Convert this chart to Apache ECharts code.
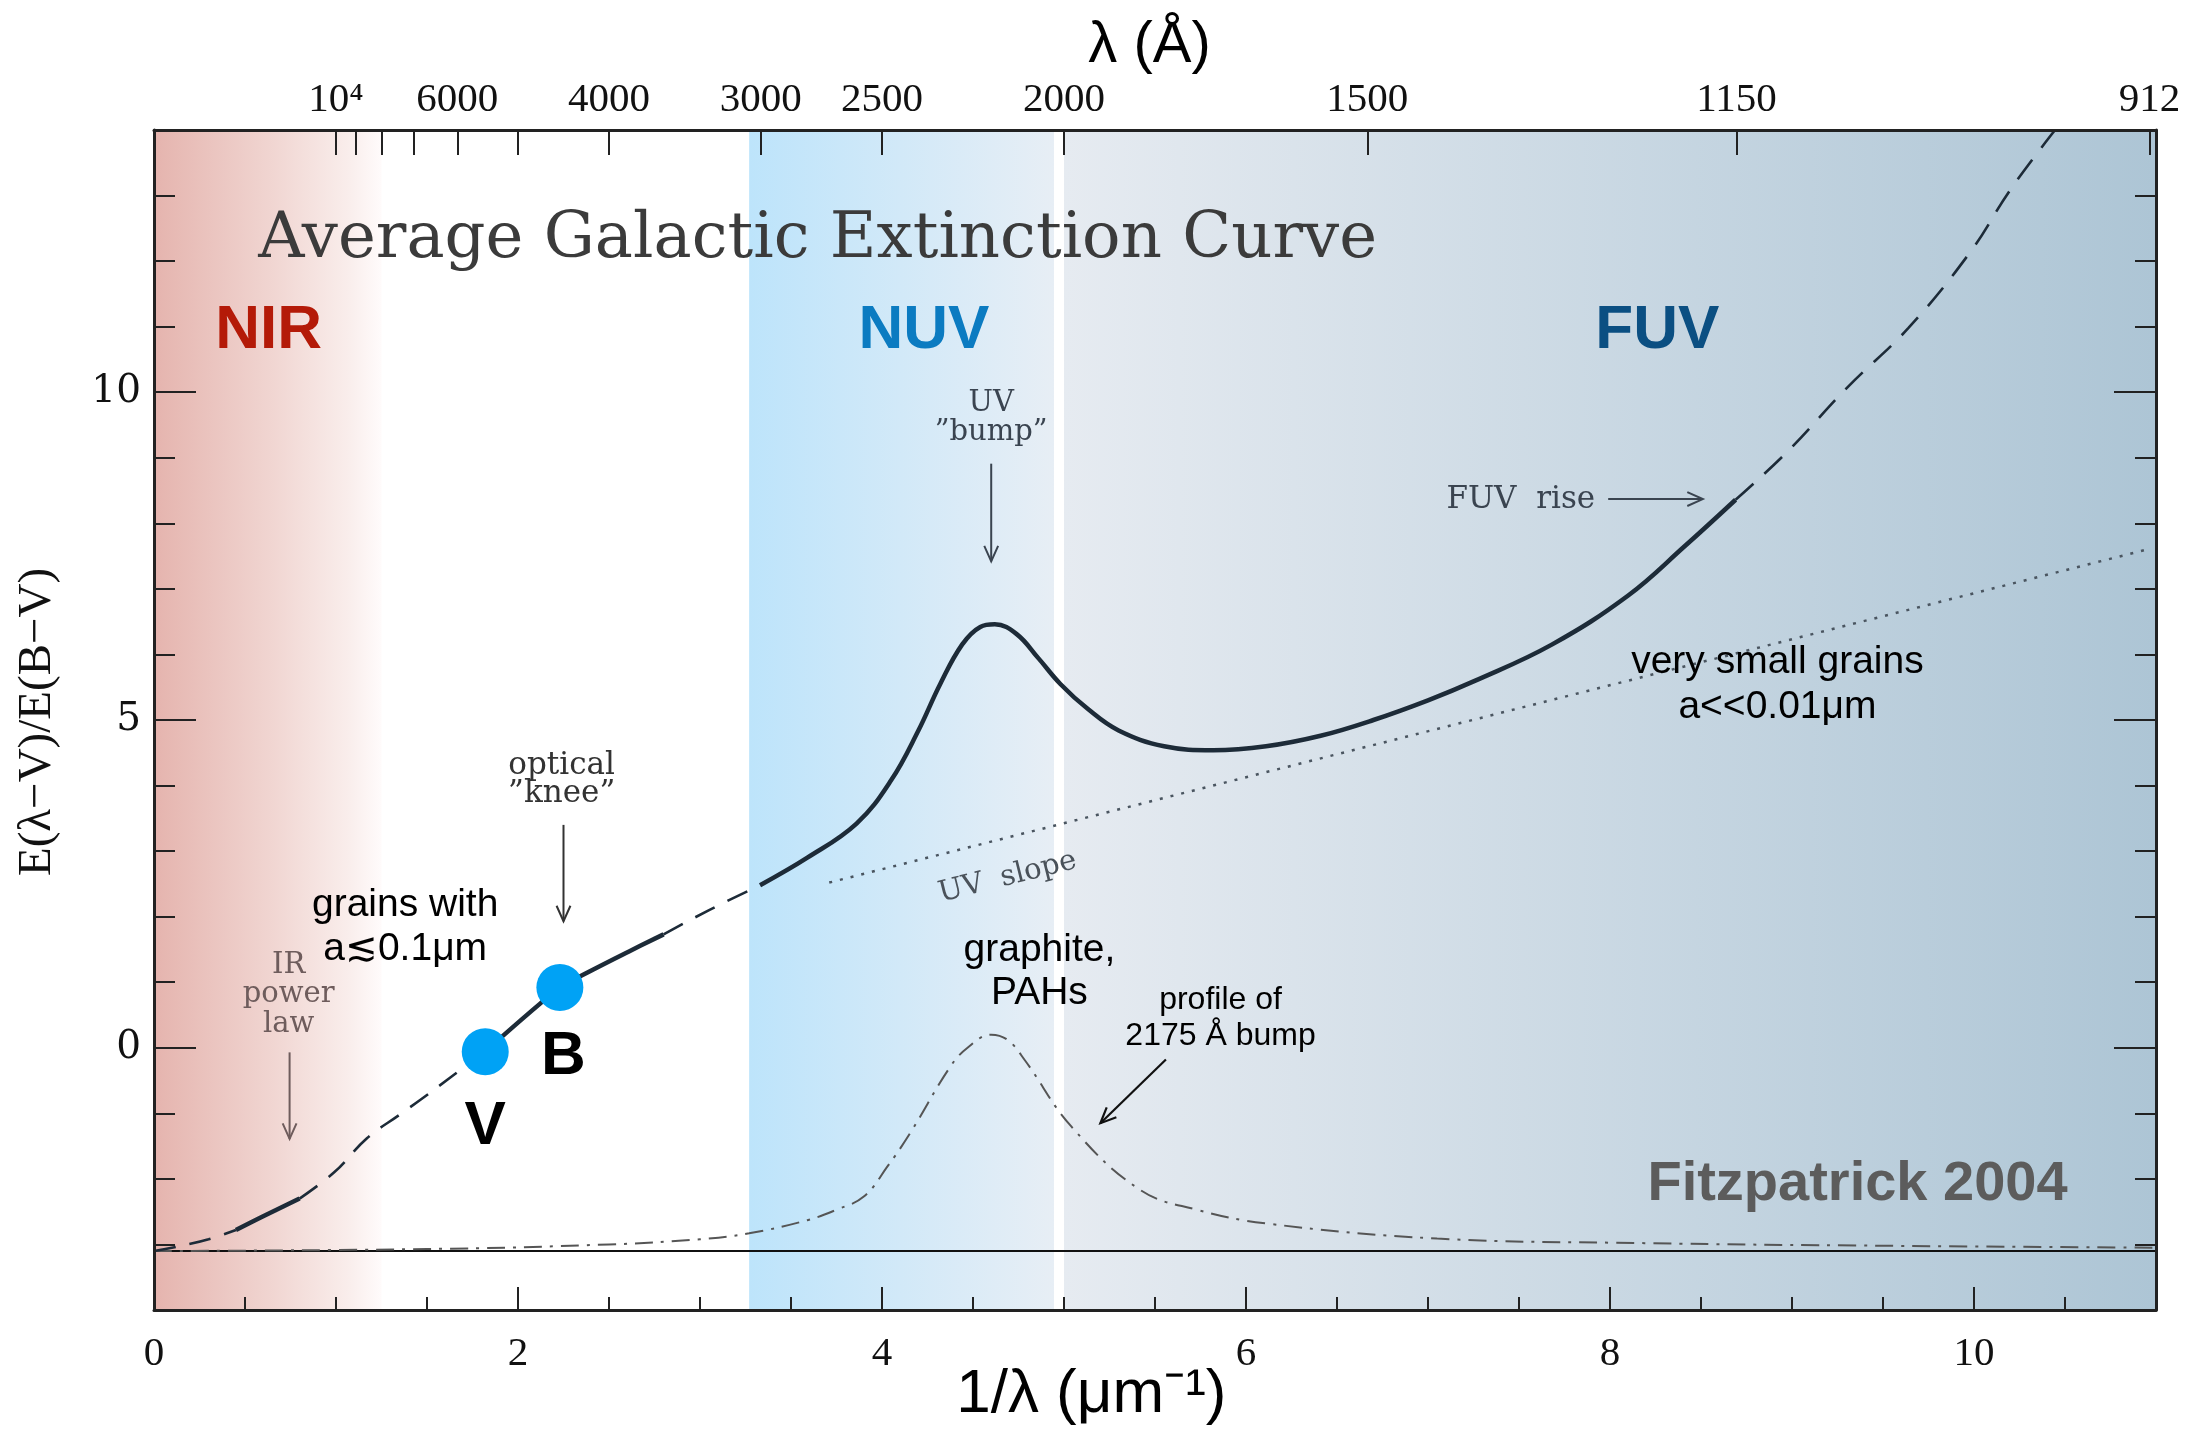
<!DOCTYPE html>
<html>
<head>
<meta charset="utf-8">
<title>Average Galactic Extinction Curve</title>
<script src="https://cdn.jsdelivr.net/npm/echarts@6.0.0/dist/echarts.min.js"></script>
<style>
  html, body { margin: 0; padding: 0; background: #fff; }
  #extc { width: 2199px; height: 1431px; }
</style>
</head>
<body>
<div id="extc"></div>
<script>
// x = 1/lambda (um^-1), y = E(lambda-V)/E(B-V)
var irDash = [[0, -3.1], [0.15, -3.02], [0.3, -2.92], [0.45, -2.78]];
var irSolid = [[0.45, -2.78], [0.6, -2.57], [0.8, -2.3]];
var optDash = [[0.8, -2.3], [0.99, -1.9], [1.17, -1.38], [1.35, -1.02], [1.5, -0.72], [1.63, -0.45], [1.82, -0.06]];
var optSolid = [[1.82, -0.06], [1.92, 0.19], [2.12, 0.67], [2.23, 0.92], [2.39, 1.16], [2.61, 1.47], [2.8, 1.73]];
var nuvDash = [[2.8, 1.73], [3.05, 2.1], [3.33, 2.48]];
var uvSolid = [[3.33, 2.48], [3.59, 2.9], [3.86, 3.42], [4.05, 4.08], [4.2, 4.84], [4.32, 5.55],
    [4.44, 6.15], [4.54, 6.42], [4.62, 6.46], [4.74, 6.31], [4.86, 5.94], [4.98, 5.55], [5.13, 5.17],
    [5.3, 4.84], [5.55, 4.6], [5.82, 4.54], [6.11, 4.6], [6.41, 4.76], [6.7, 5.0], [7.0, 5.3],
    [7.26, 5.6], [7.68, 6.15], [8.1, 6.9], [8.41, 7.65], [8.69, 8.36]];
var fuvDash = [[8.69, 8.36], [8.97, 9.08], [9.31, 10.09], [9.64, 10.98], [9.98, 12.14], [10.2, 13.09], [10.44, 13.98]];
var uvSlope = [[3.71, 2.52], [10.95, 7.6]];
var bumpProfile = [[0, -3.1], [1.5, -3.07], [2.5, -3.0], [3.0, -2.92], [3.27, -2.83], [3.59, -2.63],
    [3.75, -2.47], [3.9, -2.27], [4.03, -1.81], [4.155, -1.3], [4.375, -0.29], [4.47, 0.0], [4.6, 0.2],
    [4.69, 0.12], [4.785, -0.19], [5.04, -1.2], [5.42, -2.17], [5.73, -2.47], [6.11, -2.68],
    [7.05, -2.91], [8.19, -2.98], [9.5, -3.02], [11, -3.05]];
var baseline = [[0, -3.1], [11, -3.1]];

var bandNames = ['V', 'B'];
var bandX = [1.82, 2.23];
var bandY = [-0.06, 0.92];

var regionNames = ['NIR', 'NUV', 'FUV'];
var regionFrom = [0, 3.27, 5.0];
var regionTo = [1.25, 4.945, 11];

var xLabelValues = [0, 2, 4, 6, 8, 10];
var yLabelValues = [0, 5, 10];
var topTickAngstrom = [10000, 9000, 8000, 7000, 6000, 5000, 4000, 3000, 2500, 2000, 1500, 1150, 912];
var topLabelAngstrom = [10000, 6000, 4000, 3000, 2500, 2000, 1500, 1150, 912];

var ink = '#1d2b38';
var regionColors = [
    [[0, '#e5b4ae'], [0.5, '#f0d4d0'], [0.85, '#f9edeb'], [1, '#fffbfb']],
    [[0, '#bde4fb'], [1, '#e7eef5']],
    [[0, '#e6ebf1'], [1, '#adc5d5']]
];

function toInv(a) { return 10000 / a; }
function grad(stops) {
    return {type: 'linear', x: 0, y: 0, x2: 1, y2: 0,
        colorStops: stops.map(function (s) { return {offset: s[0], color: s[1]}; })};
}

var areas = regionNames.map(function (n, i) {
    return [{xAxis: regionFrom[i], yAxis: -4, itemStyle: {color: grad(regionColors[i]), opacity: 1}},
            {xAxis: regionTo[i], yAxis: 14}];
});

function curve(data, width, type) {
    return {
        type: 'line', data: data, showSymbol: false, symbol: 'none', silent: true,
        smooth: 0.4, z: 5,
        lineStyle: {color: ink, width: width, type: type}
    };
}

var chart = echarts.init(document.getElementById('extc'));

var frame = {color: '#222', width: 3};
var tickStyle = {color: '#222', width: 2};
var serifNum = {fontFamily: 'Liberation Serif', fontSize: 41, color: '#111'};

function xAx(o) {
    return Object.assign({type: 'value', min: 0, max: 11, z: 20, splitLine: {show: false}}, o);
}
function yAx(o) {
    return Object.assign({type: 'value', min: -4, max: 14, interval: 1, z: 20, splitLine: {show: false}}, o);
}

var option = {
    animation: false,
    backgroundColor: '#fff',
    grid: {left: 154, right: 43, top: 130, bottom: 121, outerBoundsMode: 'none'},
    xAxis: [
        xAx({interval: 0.5, position: 'bottom',
         axisLine: {show: true, onZero: false, lineStyle: frame},
         axisTick: {show: true, inside: true, length: 13, lineStyle: tickStyle},
         axisLabel: Object.assign({customValues: xLabelValues, margin: 24}, serifNum)}),
        xAx({interval: 2, position: 'bottom',
         axisLine: {show: false, onZero: false},
         axisTick: {show: true, inside: true, length: 23, customValues: xLabelValues, lineStyle: tickStyle},
         axisLabel: {show: false}}),
        xAx({interval: 1, position: 'top',
         axisLine: {show: true, onZero: false, lineStyle: frame},
         axisTick: {show: true, inside: true, length: 25, customValues: topTickAngstrom.map(toInv), lineStyle: tickStyle},
         axisLabel: Object.assign({
             customValues: topLabelAngstrom.map(toInv), margin: 9,
             formatter: function (v) {
                 var a = Math.round(10000 / v);
                 return a === 10000 ? '10\u2074' : String(a);
             }}, serifNum)})
    ],
    yAxis: [
        yAx({position: 'left',
         axisLine: {show: true, onZero: false, lineStyle: frame},
         axisTick: {show: true, inside: true, length: 21, lineStyle: tickStyle},
         axisLabel: {customValues: yLabelValues, margin: 13, fontFamily: 'DejaVu Serif', fontSize: 39, color: '#111'}}),
        yAx({position: 'left',
         axisLine: {show: false, onZero: false},
         axisTick: {show: true, inside: true, length: 42, customValues: yLabelValues, lineStyle: tickStyle},
         axisLabel: {show: false}}),
        yAx({position: 'right',
         axisLine: {show: true, onZero: false, lineStyle: frame},
         axisTick: {show: true, inside: true, length: 21, lineStyle: tickStyle},
         axisLabel: {show: false}}),
        yAx({position: 'right',
         axisLine: {show: false, onZero: false},
         axisTick: {show: true, inside: true, length: 42, customValues: yLabelValues, lineStyle: tickStyle},
         axisLabel: {show: false}})
    ],
    series: [
        {
            name: 'baseline', type: 'line', data: baseline, showSymbol: false, symbol: 'none', silent: true, z: 3,
            lineStyle: {color: '#111', width: 2},
            markArea: {silent: true, z: 1, data: areas}
        },
        {
            name: 'bump profile', type: 'line', data: bumpProfile, showSymbol: false, symbol: 'none', silent: true,
            smooth: 0.4, z: 4,
            lineStyle: {color: '#555', width: 2, type: [18, 8, 3, 8]}
        },
        {
            name: 'UV slope', type: 'line', data: uvSlope, showSymbol: false, symbol: 'none', silent: true, z: 4,
            lineStyle: {color: '#4a5560', width: 2.5, type: [3, 8]}
        },
        curve(irDash, 2.6, [22, 14]),
        curve(irSolid, 4.5, 'solid'),
        curve(optDash, 2.6, [22, 14]),
        curve(optSolid, 4.5, 'solid'),
        curve(nuvDash, 2.6, [22, 14]),
        curve(uvSolid, 4.5, 'solid'),
        curve(fuvDash, 2.6, [24, 15]),
        {
            name: 'bands', type: 'scatter', z: 10, silent: true,
            data: bandNames.map(function (n, i) { return [bandX[i], bandY[i]]; }),
            symbolSize: 47,
            itemStyle: {color: '#00a2f5', opacity: 1}
        }
    ]
};

chart.setOption(option);

function px(x, y) { return chart.convertToPixel({xAxisIndex: 0, yAxisIndex: 0}, [x, y]); }

function text(x, y, s, font, fill, rot) {
    var p = px(x, y);
    return {type: 'text', x: p[0], y: p[1], z: 100, rotation: rot || 0,
        style: {text: s, font: font, fill: fill, align: 'center', verticalAlign: 'middle'}};
}

function arrow(x1, y1, x2, y2, color, w) {
    var a = px(x1, y1), b = px(x2, y2);
    var ang = Math.atan2(b[1] - a[1], b[0] - a[0]);
    var h = 17, s = 0.42;
    var l = [b[0] - h * Math.cos(ang - s), b[1] - h * Math.sin(ang - s)];
    var r = [b[0] - h * Math.cos(ang + s), b[1] - h * Math.sin(ang + s)];
    return [
        {type: 'line', z: 100, shape: {x1: a[0], y1: a[1], x2: b[0], y2: b[1]}, style: {stroke: color, lineWidth: w}},
        {type: 'polyline', z: 100, shape: {points: [l, b, r]}, style: {stroke: color, lineWidth: w, fill: null}}
    ];
}

var serif = '31px "DejaVu Serif"';
var sans = '39px "Liberation Sans"';
var grey = '#3a4450';
var gridTop = px(0, 14)[1], gridBottom = px(0, -4)[1], gridLeft = px(0, 0)[0];

var g = [
    text(3.646, 12.31, 'Average Galactic Extinction Curve', '64px "DejaVu Serif"', '#3b3b3b'),
    text(0.63, 10.93, 'NIR', 'bold 62px "Liberation Sans"', '#b41a08'),
    text(4.23, 10.93, 'NUV', 'bold 62px "Liberation Sans"', '#0b7bc1'),
    text(8.26, 10.93, 'FUV', 'bold 62px "Liberation Sans"', '#0b4f82'),
    text(4.6, 9.83, 'UV', '29px "DejaVu Serif"', grey),
    text(4.6, 9.38, '\u201dbump\u201d', '29px "DejaVu Serif"', grey),
    text(2.24, 4.30, 'optical', serif, '#333'),
    text(2.24, 3.87, '\u201dknee\u201d', serif, '#333'),
    text(7.51, 8.36, 'FUV  rise', serif, grey),
    text(0.74, 1.25, 'IR', '29px "DejaVu Serif"', '#6e5c5c'),
    text(0.74, 0.82, 'power', '29px "DejaVu Serif"', '#6e5c5c'),
    text(0.74, 0.36, 'law', '29px "DejaVu Serif"', '#6e5c5c'),
    text(4.69, 2.6, 'UV  slope', '29px "DejaVu Serif"', '#4a525a', 14 * Math.PI / 180),
    text(1.38, 2.18, 'grains with', sans, '#000'),
    text(1.38, 1.51, 'a\u22720.1\u03bcm', sans, '#000'),
    text(4.865, 1.49, 'graphite,', sans, '#000'),
    text(4.865, 0.83, 'PAHs', sans, '#000'),
    text(5.86, 0.73, 'profile of', '32px "Liberation Sans"', '#000'),
    text(5.86, 0.17, '2175 \u00c5 bump', '32px "Liberation Sans"', '#000'),
    text(8.92, 5.88, 'very small grains', sans, '#000'),
    text(8.92, 5.20, 'a<<0.01\u03bcm', sans, '#000'),
    text(9.36, -2.09, 'Fitzpatrick 2004', 'bold 56px "Liberation Sans"', '#5c5c5c'),
    text(bandX[0], -1.2, bandNames[0], 'bold 62px "Liberation Sans"', '#000'),
    text(2.25, -0.14, bandNames[1], 'bold 62px "Liberation Sans"', '#000')
];

// axis titles
var topName = text(5.47, 14, '\u03bb (\u00c5)', '58px "Liberation Sans"', '#000');
topName.y = gridTop - 84;
var bottomName = text(5.15, -4, '1/\u03bb (\u03bcm\u207b\u00b9)', '62px "Liberation Sans"', '#000');
bottomName.y = gridBottom + 85;
var yName = text(0, 4.97, 'E(\u03bb\u2212V)/E(B\u2212V)', '47px "Liberation Serif"', '#111', Math.PI / 2);
yName.x = gridLeft - 116;
g.push(topName, bottomName, yName);

g = g.concat(
    arrow(4.6, 8.91, 4.6, 7.42, grey, 2),
    arrow(2.25, 3.40, 2.25, 1.93, '#333', 2),
    arrow(0.745, -0.07, 0.745, -1.39, '#6e5c5c', 2),
    arrow(7.99, 8.37, 8.51, 8.37, grey, 2),
    arrow(5.56, -0.18, 5.20, -1.15, '#111', 2.2)
);

chart.setOption({graphic: g});
</script>
</body>
</html>
